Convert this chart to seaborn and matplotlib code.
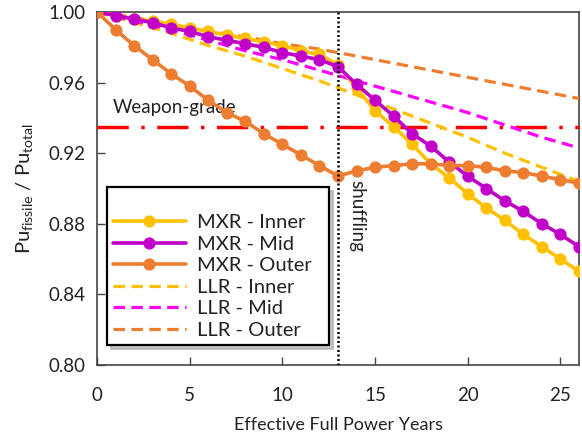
import matplotlib
matplotlib.use("Agg")
import matplotlib.pyplot as plt
import seaborn as sns
import numpy as np
import pandas as pd

# ---- data ----
years_mxr = list(range(0, 27))
mxr_inner = [1.000, 0.998, 0.996, 0.995, 0.993, 0.991, 0.989, 0.987, 0.985, 0.983, 0.981, 0.978, 0.976,
             0.970, 0.957, 0.944, 0.935, 0.925, 0.914, 0.906, 0.897, 0.889, 0.882, 0.874, 0.867, 0.860, 0.853]
mxr_mid = [1.000, 0.998, 0.996, 0.994, 0.991, 0.989, 0.986, 0.984, 0.982, 0.980, 0.977, 0.975, 0.973,
           0.969, 0.959, 0.950, 0.941, 0.931, 0.924, 0.915, 0.907, 0.900, 0.893, 0.887, 0.880, 0.874, 0.867]
mxr_outer = [1.000, 0.990, 0.981, 0.973, 0.965, 0.958, 0.950, 0.943, 0.938, 0.931, 0.925, 0.919, 0.913,
             0.907, 0.910, 0.912, 0.913, 0.914, 0.914, 0.913, 0.913, 0.912, 0.910, 0.909, 0.907, 0.905, 0.903]

years_llr = [0, 2, 4, 6, 8, 10, 12, 14, 16, 18, 20, 22, 24, 26]
llr_inner = [1.000, 0.994, 0.988, 0.981, 0.975, 0.968, 0.961, 0.953, 0.945, 0.937, 0.929, 0.920, 0.912, 0.904]
llr_mid = [1.000, 0.995, 0.990, 0.984, 0.978, 0.973, 0.967, 0.961, 0.955, 0.949, 0.943, 0.936, 0.929, 0.923]
llr_outer = [1.000, 0.997, 0.993, 0.989, 0.986, 0.982, 0.979, 0.975, 0.971, 0.967, 0.963, 0.959, 0.955, 0.951]

weapon_grade = 0.935
shuffle_year = 13

x_ticks = [0, 5, 10, 15, 20, 25]
y_ticks = [0.80, 0.84, 0.88, 0.92, 0.96, 1.00]

# ---- style ----
sns.set_theme(style="ticks")
plt.rcParams['font.family'] = ['Lato', 'DejaVu Sans']
plt.rcParams['mathtext.fontset'] = 'custom'
plt.rcParams['mathtext.rm'] = 'Lato'
plt.rcParams['mathtext.it'] = 'Lato'
TXT = '#222222'

fig = plt.figure(figsize=(5.82, 4.37), dpi=100)
ax = fig.add_axes([97/582, 1-365/437, 482/582, 353/437])

c_inner = '#FFC000'
c_mid = '#C000C8'
c_outer = '#ED7D31'
c_mag = '#FF00FF'

mk = dict(marker='o', markersize=8.8, markeredgewidth=0, linewidth=2.6)
sns.lineplot(x=years_mxr, y=mxr_inner, ax=ax, color=c_inner, label='MXR - Inner', zorder=5, **mk)
sns.lineplot(x=years_mxr, y=mxr_mid, ax=ax, color=c_mid, label='MXR - Mid', zorder=6, **mk)
sns.lineplot(x=years_mxr, y=mxr_outer, ax=ax, color=c_outer, label='MXR - Outer', zorder=7, **mk)

dk = dict(linewidth=2.3, dashes=(3.6, 2.0))
sns.lineplot(x=years_llr, y=llr_inner, ax=ax, color=c_inner, label='LLR - Inner', zorder=4, **dk)
sns.lineplot(x=years_llr, y=llr_mid, ax=ax, color=c_mag, label='LLR - Mid', zorder=4, **dk)
sns.lineplot(x=years_llr, y=llr_outer, ax=ax, color=c_outer, label='LLR - Outer', zorder=4, **dk)

ax.axhline(weapon_grade, color='#FF0000', linewidth=2.5, linestyle=(0, (9.0, 3.6, 1.0, 3.6)), zorder=3)
ax.axvline(shuffle_year, color='black', linewidth=1.8, linestyle=(0, (0.8, 1.0)), zorder=8)

ax.text(0.85, 0.9425, 'Weapon-grade', fontsize=13.5, color=TXT, va='baseline', ha='left')
ax.text(13.55, 0.905, 'shuffling', fontsize=13.5, color=TXT, rotation=270, va='top', ha='left')

ax.set_xlim(0, 26)
ax.set_ylim(0.80, 1.00)
ax.set_xticks(x_ticks)
ax.set_yticks(y_ticks)
ax.set_yticklabels([f'{v:.2f}' for v in y_ticks])
ax.tick_params(direction='in', length=6, width=1, colors='#444444', labelcolor=TXT, labelsize=13.5)
ax.tick_params(axis='x', pad=16)
ax.tick_params(axis='y', pad=8)
for s in ax.spines.values():
    s.set_color('#444444')
    s.set_linewidth(1.2)
    s.set_visible(True)

ax.set_xlabel('Effective Full Power Years', fontsize=13, color=TXT, labelpad=9)
ax.set_ylabel(r'Pu$_{\mathrm{fissile}}$ / Pu$_{\mathrm{total}}$', fontsize=14.5, color=TXT, labelpad=10)

leg = ax.legend(loc='lower left', bbox_to_anchor=(0.021, 0.057, 0.46, 0.46), mode='expand',
                fontsize=14.5, frameon=True, title=' ', title_fontsize=14.5,
                fancybox=False, shadow={'color': '0.6', 'alpha': 0.5, 'ox': 3, 'oy': -3},
                handlelength=3.6, handletextpad=0.55, labelspacing=0.22, borderpad=0.3,
                borderaxespad=0)
leg.get_frame().set_edgecolor('black')
leg.get_frame().set_linewidth(1.6)
leg.set_zorder(10)
for t in leg.get_texts():
    t.set_color(TXT)

fig.savefig('out.png', dpi=100)
